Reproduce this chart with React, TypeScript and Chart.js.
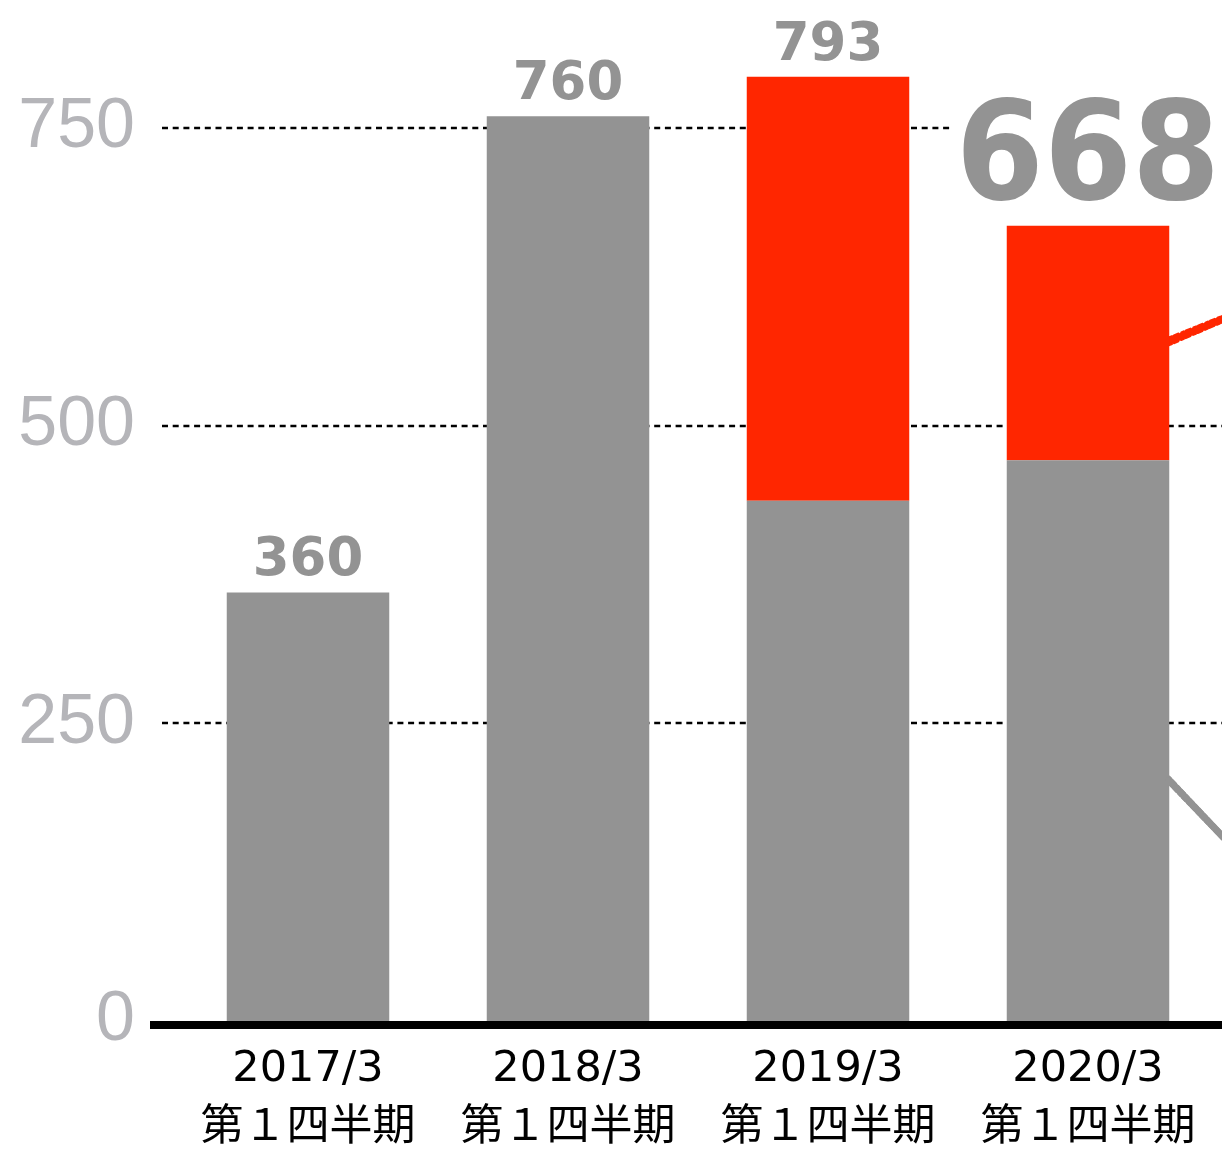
import React, { useEffect, useRef } from 'react';
import { Chart, registerables } from 'chart.js';

Chart.register(...registerables);

const categories: string[][] = [
  ['2017/3', '第１四半期'],
  ['2018/3', '第１四半期'],
  ['2019/3', '第１四半期'],
  ['2020/3', '第１四半期'],
  ['2021/3', '第１四半期'],
];
const grayValues: (number | null)[] = [360, 760, 437, 471, null];
const redValues: (number | null)[] = [null, null, 356, 197, null];
const highlightIndex = 3;
const yTickStep = 250;
const yMax = 850;
// connector sketch lines from the 2020 bar toward the next period [start, end]
const redConnector = [571, 605];
const grayConnector = [202, 116];

const GRAY = '#939393';
const RED = '#ff2600';
const LABEL_GRAY = '#939393';
const TICK_GRAY = '#b5b5b9';

export default function App() {
  const ref = useRef<HTMLCanvasElement | null>(null);

  useEffect(() => {
    const canvas = ref.current;
    if (!canvas) return;

    const decor = {
      id: 'decor',
      beforeDatasetsDraw(chart: any) {
        const { ctx, chartArea, scales } = chart;
        const y = scales.y;
        ctx.save();
        ctx.strokeStyle = '#000';
        ctx.lineWidth = 2.6;
        ctx.setLineDash([6, 4.7]);
        y.ticks.forEach((t: any) => {
          if (t.value <= 0) return;
          const py = Math.round(y.getPixelForValue(t.value));
          ctx.beginPath();
          ctx.moveTo(chartArea.left - 16, py);
          ctx.lineTo(chart.width, py);
          ctx.stroke();
        });
        ctx.restore();
      },
      afterDatasetsDraw(chart: any) {
        const { ctx, chartArea, scales } = chart;
        const x = scales.x;
        const y = scales.y;
        ctx.save();
        // axis line
        ctx.fillStyle = '#000';
        ctx.fillRect(chartArea.left - 28, chartArea.bottom, chart.width, 8);

        // connector sketch lines
        const grayMeta = chart.getDatasetMeta(0);
        const bar = grayMeta.data[highlightIndex];
        const bw = bar.width;
        const x0 = bar.x + bw / 2;
        const x1 = x.getPixelForValue(highlightIndex + 1) - bw / 2;
        const sketch = (vals: number[], color: string) => {
          const ya = y.getPixelForValue(vals[0]);
          const yb = y.getPixelForValue(vals[1]);
          ctx.strokeStyle = color;
          ctx.lineCap = 'round';
          ctx.lineWidth = 7;
          ctx.beginPath();
          ctx.moveTo(x0, ya);
          ctx.lineTo(x1, yb);
          ctx.stroke();
          ctx.lineWidth = 2;
          [-4, 4].forEach((o) => {
            ctx.setLineDash([3, 2, 5, 3]);
            ctx.beginPath();
            ctx.moveTo(x0, ya + o);
            ctx.lineTo(x1, yb + o * 0.7);
            ctx.stroke();
          });
          ctx.setLineDash([]);
        };
        sketch(redConnector, RED);
        sketch(grayConnector, GRAY);

        // totals
        categories.forEach((_, i) => {
          const g = grayValues[i];
          const r = redValues[i];
          if (g == null && r == null) return;
          const total = (g || 0) + (r || 0);
          const px = x.getPixelForValue(i);
          const top = y.getPixelForValue(total);
          const text = String(total);
          const big = i === highlightIndex;
          const size = big ? 137 : 54;
          const sx = big ? 0.925 : 0.98;
          const gap = big ? 27 : 17;
          ctx.font = `bold ${size}px "DejaVu Sans"`;
          ctx.textAlign = 'center';
          ctx.textBaseline = 'alphabetic';
          if (big) {
            const w = ctx.measureText(text).width * sx;
            ctx.fillStyle = '#fff';
            ctx.fillRect(px - w / 2 - 4, top - gap - size * 0.8, w + 12, size * 0.8 + 6);
          }
          ctx.save();
          ctx.translate(px, top - gap);
          ctx.scale(sx, 1);
          ctx.fillStyle = LABEL_GRAY;
          ctx.fillText(text, 0, 0);
          ctx.restore();
        });
        ctx.restore();
      },
    };

    const chart = new Chart(canvas, {
      type: 'bar',
      data: {
        labels: categories,
        datasets: [
          { label: 'base', data: grayValues, backgroundColor: GRAY, borderWidth: 0 },
          { label: 'add', data: redValues, backgroundColor: RED, borderWidth: 0 },
        ],
      },
      options: {
        animation: false,
        responsive: false,
        devicePixelRatio: 1,
        layout: { padding: { top: 9, right: 2, left: 0, bottom: 0 } },
        plugins: { legend: { display: false }, tooltip: { enabled: false } },
        datasets: { bar: { categoryPercentage: 1, barPercentage: 0.625 } },
        scales: {
          x: {
            stacked: true,
            grid: { display: false },
            border: { display: false },
            ticks: {
              color: '#000',
              font: { family: '"DejaVu Sans", "Noto Sans CJK JP"', size: 43, lineHeight: 1.37 },
              padding: 11,
              maxRotation: 0,
              autoSkip: false,
            },
            afterFit: (s: any) => {
              s.height = 128;
              s.paddingLeft = 0;
              s.paddingRight = 0;
              s.paddingTop = 0;
              s.paddingBottom = 0;
            },
          },
          y: {
            stacked: true,
            min: 0,
            max: yMax,
            grid: { display: false },
            border: { display: false },
            ticks: {
              stepSize: yTickStep,
              color: TICK_GRAY,
              font: { family: '"Liberation Sans", Arial', size: 70 },
              padding: 35,
            },
            afterBuildTicks: (s: any) => {
              s.ticks = s.ticks.filter((t: any) => t.value % yTickStep === 0);
            },
            afterFit: (s: any) => {
              s.width = 178;
              s.paddingTop = 0;
              s.paddingBottom = 0;
              s.paddingLeft = 0;
              s.paddingRight = 0;
            },
          },
        },
      },
      plugins: [decor],
    });
    return () => chart.destroy();
  }, []);

  return (
    <div
      style={{
        position: 'absolute',
        left: 0,
        top: 0,
        width: 1222,
        height: 1149,
        overflow: 'hidden',
        background: '#fff',
      }}
    >
      <canvas ref={ref} width={1480} height={1149} style={{ width: 1480, height: 1149, display: 'block' }} />
    </div>
  );
}
